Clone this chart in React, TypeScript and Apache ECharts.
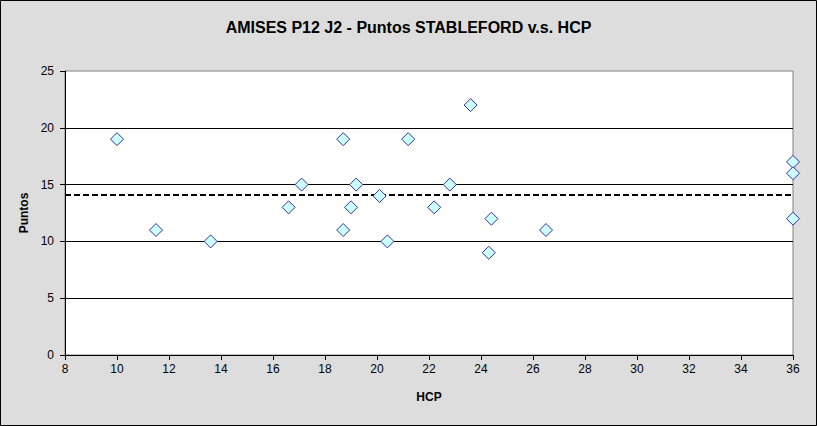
import React, { useEffect, useRef } from "react";
import * as echarts from "echarts";

const hcp = [10, 11.5, 13.6, 16.6, 17.1, 18.7, 18.7, 19.0, 19.2, 20.1, 20.4, 21.2, 22.2, 22.8, 23.6, 24.3, 24.4, 26.5, 36, 36, 36];
const puntos = [19, 11, 10, 13, 15, 19, 11, 13, 15, 14, 10, 19, 13, 15, 22, 9, 12, 11, 17, 16, 12];
const meanLine = 14.1;
const title = "AMISES P12 J2 - Puntos STABLEFORD v.s. HCP";

export default function App() {
  const ref = useRef<HTMLDivElement>(null);
  useEffect(() => {
    document.body.style.margin = "0";
    const chart = echarts.init(ref.current!, null, { renderer: "svg" });
    const font = "'Liberation Sans', Arial, sans-serif";
    chart.setOption({
      animation: false,
      backgroundColor: "#dddddd",
      textStyle: { fontFamily: font },
      title: {
        text: title,
        left: "center",
        top: 14,
        textStyle: { fontFamily: font, fontSize: 16, fontWeight: "bold", color: "#000" },
      },
      graphic: [
        {
          type: "rect",
          shape: { x: 0.5, y: 0.5, width: 816, height: 425 },
          style: { fill: "none", stroke: "#000", lineWidth: 1 },
          silent: true,
        },
      ],
      grid: {
        left: 65,
        right: 24,
        top: 71,
        bottom: 71,
        show: true,
        backgroundColor: "#fff",
        borderColor: "#808080",
        borderWidth: 1,
      },
      xAxis: {
        type: "value",
        min: 8,
        max: 36,
        interval: 2,
        name: "HCP",
        nameLocation: "middle",
        nameGap: 36,
        nameTextStyle: { fontFamily: font, fontSize: 12, fontWeight: "bold", color: "#000" },
        axisLine: { show: true, onZero: false, lineStyle: { color: "#000", width: 1 } },
        axisTick: { show: true, length: 5, lineStyle: { color: "#000" } },
        axisLabel: { color: "#000", fontSize: 12, margin: 8, fontFamily: font },
        splitLine: { show: false },
      },
      yAxis: {
        type: "value",
        min: 0,
        max: 25,
        interval: 5,
        name: "Puntos",
        nameLocation: "middle",
        nameGap: 33,
        nameRotate: 90,
        nameTextStyle: { fontFamily: font, fontSize: 12, fontWeight: "bold", color: "#000" },
        axisLine: { show: true, lineStyle: { color: "#000", width: 1 } },
        axisTick: { show: true, length: 5, lineStyle: { color: "#000" } },
        axisLabel: { color: "#000", fontSize: 12, margin: 11, fontFamily: font },
        splitLine: { show: true, showMinLine: false, showMaxLine: false, lineStyle: { color: "#000", width: 1 } },
      },
      series: [
        {
          type: "scatter",
          data: hcp.map((x, i) => [x, puntos[i]]),
          symbol: "diamond",
          symbolSize: [13, 13],
          itemStyle: { color: "#ccffff", borderColor: "#333399", borderWidth: 1, opacity: 1 },
          clip: false,
          z: 5,
          markLine: {
            silent: true,
            symbol: "none",
            label: { show: false },
            lineStyle: { color: "#000", width: 2, type: [6, 3] },
            data: [{ yAxis: meanLine }],
          },
        },
      ],
    });
    return () => chart.dispose();
  }, []);
  return <div ref={ref} style={{ width: 817, height: 426 }} />;
}
